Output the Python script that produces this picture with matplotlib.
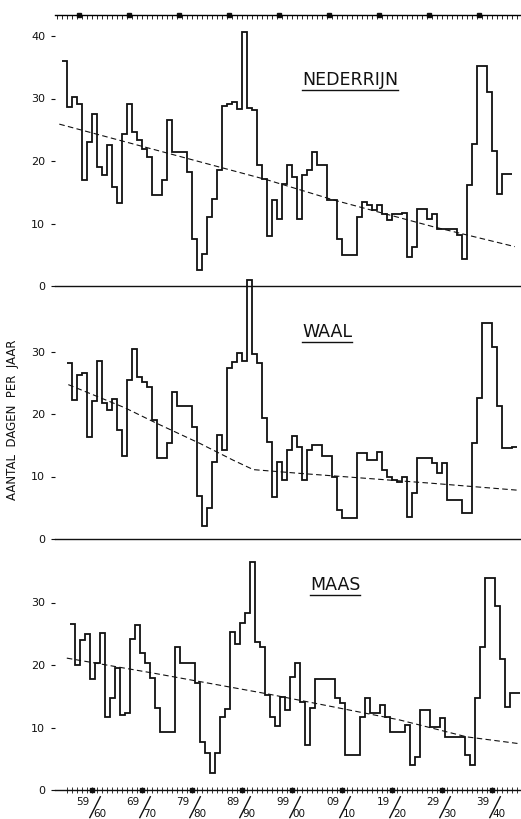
import matplotlib.pyplot as plt
from matplotlib.lines import Line2D

# number of days per year (one value per year)
nederrijn_start = 1854.0
nederrijn = [36.0, 28.7, 30.2, 29.2, 17.0, 23.1, 27.5, 19.1, 17.7, 22.6,
             15.9, 13.3, 24.4, 29.2, 24.7, 23.4, 22.0, 20.7, 14.6, 14.6,
             17.0, 26.6, 21.5, 21.5, 21.5, 18.3, 7.6, 2.6, 5.2, 11.1,
             14.0, 18.6, 28.8, 29.2, 29.5, 28.4, 40.7, 28.5, 28.2, 19.4,
             17.1, 8.0, 13.7, 10.8, 16.4, 19.4, 17.5, 10.7, 17.8, 18.6,
             21.5, 19.4, 19.4, 13.8, 13.8, 7.6, 5.0, 5.0, 5.0, 11.1,
             13.5, 13.0, 12.2, 13.0, 11.6, 10.6, 11.6, 11.6, 11.7, 4.6,
             6.3, 12.3, 12.3, 10.7, 11.6, 9.2, 9.2, 9.2, 9.2, 8.2,
             4.4, 16.2, 22.8, 35.2, 35.2, 31.1, 21.6, 14.8, 18.0, 18.0]

waal_start = 1855.0
waal = [28.2, 22.3, 26.2, 26.6, 16.4, 22.1, 28.5, 21.7, 20.6, 22.4,
        17.4, 13.3, 25.5, 30.4, 26.0, 25.2, 24.3, 19.1, 12.9, 12.9,
        15.3, 23.5, 21.3, 21.3, 21.3, 18.0, 6.9, 2.1, 5.0, 12.4,
        16.6, 14.2, 27.3, 28.4, 29.8, 28.5, 41.4, 29.6, 28.1, 19.3,
        15.6, 6.8, 12.4, 9.5, 14.2, 16.5, 14.8, 9.4, 14.2, 15.1,
        15.0, 13.3, 13.3, 10.0, 4.6, 3.3, 3.3, 3.3, 13.7, 13.7,
        12.6, 12.6, 14.0, 11.0, 10.0, 9.4, 9.2, 10.0, 3.5, 7.3,
        12.9, 12.9, 12.9, 12.2, 10.5, 12.2, 6.2, 6.2, 6.2, 4.2,
        4.2, 15.3, 22.5, 34.5, 34.5, 30.8, 21.3, 14.5, 14.5, 14.8]

maas_start = 1855.6
maas = [26.5, 20.0, 24.0, 25.0, 17.8, 20.3, 25.1, 11.7, 14.7, 19.6,
        12.0, 12.3, 24.2, 26.4, 21.9, 20.3, 17.9, 13.1, 9.3, 9.3,
        9.3, 22.9, 20.4, 20.4, 20.4, 17.1, 7.7, 5.9, 2.7, 5.9,
        11.7, 13.0, 25.3, 23.3, 26.8, 28.4, 36.5, 23.7, 22.9, 15.2,
        11.7, 10.3, 14.9, 12.8, 18.1, 20.3, 14.1, 7.2, 13.1, 17.8,
        17.8, 17.8, 17.8, 14.7, 13.9, 5.6, 5.6, 5.6, 11.7, 14.7,
        12.3, 12.3, 13.6, 11.7, 9.3, 9.3, 9.3, 10.4, 4.0, 5.3,
        12.8, 12.8, 10.1, 10.1, 11.5, 8.5, 8.5, 8.5, 8.5, 5.6,
        4.0, 14.7, 22.9, 34.0, 34.0, 29.5, 21.0, 13.3, 15.5, 15.5]

# dashed trend lines
ned_trend_x = [1853.4, 1894.9, 1908.1, 1928.1, 1944.5]
ned_trend_y = [25.9, 17.0, 13.8, 9.5, 6.3]
waal_trend_x = [1855.2, 1866.5, 1872.9, 1881.5, 1888.2, 1892.2, 1901.5, 1914.9, 1928.2, 1945.2]
waal_trend_y = [24.7, 21.0, 18.5, 15.3, 12.6, 11.1, 10.5, 9.7, 8.9, 7.8]
maas_trend_x = [1854.9, 1872.2, 1894.9, 1908.2, 1921.5, 1934.9, 1945.5]
maas_trend_y = [21.1, 18.7, 15.4, 13.3, 11.2, 8.5, 7.4]

decades = [1860, 1870, 1880, 1890, 1900, 1910, 1920, 1930, 1940]

W, H = 521, 819
X0, X1 = 1852.54, 1945.74
PX_PER_DAY = 6.25
ink = "#111111"

fig = plt.figure(figsize=(W / 100, H / 100), dpi=100)
fig.patch.set_facecolor("white")

panels = [
    ("NEDERRIJN", nederrijn_start, nederrijn, ned_trend_x, ned_trend_y, 15, 286, [0, 10, 20, 30, 40], 302),
    ("WAAL", waal_start, waal, waal_trend_x, waal_trend_y, 286, 539, [0, 10, 20, 30], 302),
    ("MAAS", maas_start, maas, maas_trend_x, maas_trend_y, 539, 790, [0, 10, 20, 30], 310),
]

axes = []
titles = []
for name, start, vals, tx, ty, top, bottom, yt, tleft in panels:
    ax = fig.add_axes([55 / W, 1 - bottom / H, (W - 55) / W, (bottom - top) / H])
    ax.set_facecolor("none")
    edges = [start + i for i in range(len(vals) + 1)]
    ax.stairs(vals, edges, baseline=None, color=ink, lw=1.3, clip_on=False)
    ax.plot(tx, ty, color=ink, lw=0.8, ls=(0, (5, 3)))
    ax.set_xlim(X0, X1)
    ax.set_ylim(0, (bottom - top) / PX_PER_DAY)
    for s in ["left", "right", "top"]:
        ax.spines[s].set_visible(False)
    ax.spines["bottom"].set_color(ink)
    ax.spines["bottom"].set_linewidth(1.0)
    ax.set_yticks(yt)
    ax.set_yticklabels([str(v) for v in yt])
    ax.tick_params(axis="y", length=3, width=0.8, pad=4, labelsize=8, colors=ink)
    ax.set_xticks([])
    t = ax.text((tleft - 55) / (W - 55), (bottom - (top + (65 if top == 15 else 46))) / (bottom - top),
                name, transform=ax.transAxes, ha="left", va="center", fontsize=12.5, color=ink)
    titles.append(t)
    axes.append(ax)

# top ruler on the first panel
ax1 = axes[0]
ax1.spines["top"].set_visible(True)
ax1.spines["top"].set_linewidth(1.0)
ax1.set_xticks(range(1853, 1946), minor=True)
ax1.tick_params(axis="x", which="minor", top=True, bottom=False, direction="in", length=3, width=0.6)
ax1.plot([d - 2.7 for d in decades], [1] * len(decades), "s", ms=3, color=ink,
         transform=ax1.get_xaxis_transform(), clip_on=False)

# bottom ruler with year ticks, decade squares and hydrological-year labels
ax3 = axes[2]
ax3.set_xticks(range(1855, 1946), minor=True)
ax3.tick_params(axis="x", which="minor", bottom=True, direction="inout", length=4, width=0.6, colors=ink)
xt = ax3.get_xaxis_transform()
ax3.plot(decades, [0] * len(decades), "s", ms=3, color=ink, transform=xt, clip_on=False)
for d in decades:
    ax3.text(d - 0.5, -0.047, f"{(d - 1) % 100:02d}", transform=xt, ha="right", va="center",
             fontsize=7.5, color=ink)
    ax3.plot([d - 0.5, d + 1.6], [-0.11, -0.027], color=ink, lw=1.0, transform=xt, clip_on=False)
    ax3.text(d + 0.1, -0.094, f"{d % 100:02d}", transform=xt, ha="left", va="center",
             fontsize=7.5, color=ink)

fig.text(13 / W, 1 - 420 / H, "AANTAL  DAGEN  PER  JAAR", rotation=90,
         ha="center", va="center", fontsize=8.5, color=ink)

# underline the river names
fig.canvas.draw()
inv = fig.transFigure.inverted()
for t in titles:
    bb = t.get_window_extent()
    (xa, ya), (xb, _) = inv.transform([(bb.x0, bb.y0 - 1), (bb.x1, bb.y0 - 1)])
    fig.add_artist(Line2D([xa, xb], [ya, ya], transform=fig.transFigure, color=ink, lw=1.0))

fig.savefig("out.png", dpi=100)
